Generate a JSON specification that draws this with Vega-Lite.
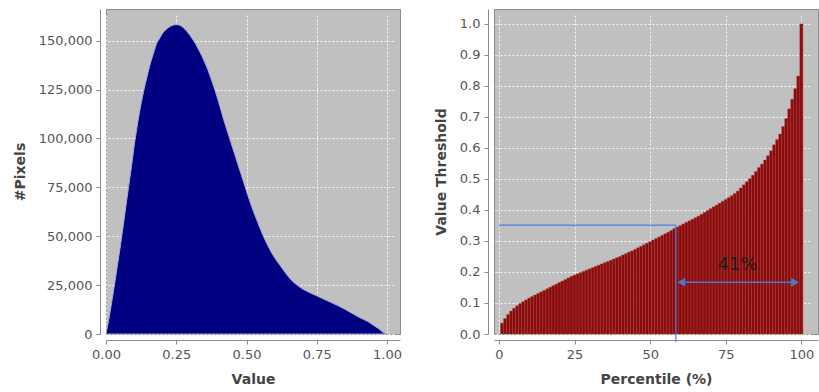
{
  "$schema": "https://vega.github.io/schema/vega-lite/v6.json",
  "autosize": {"type": "pad"},
  "padding": {"left": 12, "top": 8, "right": 0, "bottom": 0},
  "background": "white",
  "spacing": 30,
  "config": {
    "view": {"fill": "#c0c0c0", "stroke": "#8c8c8c", "strokeWidth": 1},
    "axis": {
      "labelFont": "DejaVu Sans", "labelFontSize": 13, "labelColor": "#555555",
      "titleFont": "DejaVu Sans", "titleFontSize": 14, "titleFontWeight": "bold", "titleColor": "#444444",
      "domainColor": "#8c8c8c", "tickColor": "#8c8c8c", "tickSize": 4, "offset": 6,
      "labelPadding": 4, "labelOverlap": false, "labelFlush": false,
      "gridColor": "#ffffff", "gridDash": [2, 2], "gridWidth": 1, "gridOpacity": 0.9
    }
  },
  "datasets": {
    "hist": [
      {"value": 0.00, "pixels": 0},
      {"value": 0.01, "pixels": 7500},
      {"value": 0.02, "pixels": 16000},
      {"value": 0.03, "pixels": 25000},
      {"value": 0.04, "pixels": 34500},
      {"value": 0.05, "pixels": 44000},
      {"value": 0.06, "pixels": 54000},
      {"value": 0.07, "pixels": 64500},
      {"value": 0.08, "pixels": 75000},
      {"value": 0.09, "pixels": 85000},
      {"value": 0.10, "pixels": 96000},
      {"value": 0.11, "pixels": 105500},
      {"value": 0.12, "pixels": 114000},
      {"value": 0.13, "pixels": 121500},
      {"value": 0.14, "pixels": 128000},
      {"value": 0.15, "pixels": 134000},
      {"value": 0.16, "pixels": 139500},
      {"value": 0.17, "pixels": 144000},
      {"value": 0.18, "pixels": 148500},
      {"value": 0.19, "pixels": 151000},
      {"value": 0.20, "pixels": 153500},
      {"value": 0.22, "pixels": 156500},
      {"value": 0.24, "pixels": 158000},
      {"value": 0.25, "pixels": 158200},
      {"value": 0.26, "pixels": 158000},
      {"value": 0.28, "pixels": 156000},
      {"value": 0.30, "pixels": 152500},
      {"value": 0.32, "pixels": 148000},
      {"value": 0.34, "pixels": 142500},
      {"value": 0.36, "pixels": 136000},
      {"value": 0.38, "pixels": 128000},
      {"value": 0.40, "pixels": 119000},
      {"value": 0.42, "pixels": 109000},
      {"value": 0.44, "pixels": 100000},
      {"value": 0.46, "pixels": 91000},
      {"value": 0.48, "pixels": 82000},
      {"value": 0.50, "pixels": 73000},
      {"value": 0.52, "pixels": 64500},
      {"value": 0.54, "pixels": 57000},
      {"value": 0.56, "pixels": 50000},
      {"value": 0.58, "pixels": 44000},
      {"value": 0.60, "pixels": 39000},
      {"value": 0.62, "pixels": 35000},
      {"value": 0.64, "pixels": 31000},
      {"value": 0.66, "pixels": 27500},
      {"value": 0.68, "pixels": 25000},
      {"value": 0.70, "pixels": 23000},
      {"value": 0.72, "pixels": 21500},
      {"value": 0.75, "pixels": 19500},
      {"value": 0.78, "pixels": 17500},
      {"value": 0.80, "pixels": 16200},
      {"value": 0.85, "pixels": 12700},
      {"value": 0.88, "pixels": 10200},
      {"value": 0.90, "pixels": 8600},
      {"value": 0.93, "pixels": 6500},
      {"value": 0.95, "pixels": 4600},
      {"value": 0.97, "pixels": 2700},
      {"value": 0.99, "pixels": 500},
      {"value": 1.00, "pixels": 0}
    ],
    "pct": [
      {"p": 1, "v": 0.035}, {"p": 2, "v": 0.05}, {"p": 3, "v": 0.063}, {"p": 4, "v": 0.074}, {"p": 5, "v": 0.083},
      {"p": 6, "v": 0.091}, {"p": 7, "v": 0.098}, {"p": 8, "v": 0.104}, {"p": 9, "v": 0.11}, {"p": 10, "v": 0.116},
      {"p": 11, "v": 0.121}, {"p": 12, "v": 0.126}, {"p": 13, "v": 0.131}, {"p": 14, "v": 0.136}, {"p": 15, "v": 0.141},
      {"p": 16, "v": 0.146}, {"p": 17, "v": 0.151}, {"p": 18, "v": 0.156}, {"p": 19, "v": 0.161}, {"p": 20, "v": 0.166},
      {"p": 21, "v": 0.171}, {"p": 22, "v": 0.176}, {"p": 23, "v": 0.181}, {"p": 24, "v": 0.186}, {"p": 25, "v": 0.19},
      {"p": 26, "v": 0.194}, {"p": 27, "v": 0.198}, {"p": 28, "v": 0.202}, {"p": 29, "v": 0.206}, {"p": 30, "v": 0.21},
      {"p": 31, "v": 0.214}, {"p": 32, "v": 0.218}, {"p": 33, "v": 0.222}, {"p": 34, "v": 0.226}, {"p": 35, "v": 0.23},
      {"p": 36, "v": 0.234}, {"p": 37, "v": 0.238}, {"p": 38, "v": 0.242}, {"p": 39, "v": 0.246}, {"p": 40, "v": 0.25},
      {"p": 41, "v": 0.255}, {"p": 42, "v": 0.259}, {"p": 43, "v": 0.264}, {"p": 44, "v": 0.268}, {"p": 45, "v": 0.273},
      {"p": 46, "v": 0.278}, {"p": 47, "v": 0.283}, {"p": 48, "v": 0.288}, {"p": 49, "v": 0.293}, {"p": 50, "v": 0.298},
      {"p": 51, "v": 0.303}, {"p": 52, "v": 0.308}, {"p": 53, "v": 0.313}, {"p": 54, "v": 0.318}, {"p": 55, "v": 0.323},
      {"p": 56, "v": 0.328}, {"p": 57, "v": 0.334}, {"p": 58, "v": 0.34}, {"p": 59, "v": 0.345}, {"p": 60, "v": 0.35},
      {"p": 61, "v": 0.355}, {"p": 62, "v": 0.36}, {"p": 63, "v": 0.365}, {"p": 64, "v": 0.37}, {"p": 65, "v": 0.375},
      {"p": 66, "v": 0.38}, {"p": 67, "v": 0.386}, {"p": 68, "v": 0.392}, {"p": 69, "v": 0.398}, {"p": 70, "v": 0.404},
      {"p": 71, "v": 0.41}, {"p": 72, "v": 0.416}, {"p": 73, "v": 0.422}, {"p": 74, "v": 0.428}, {"p": 75, "v": 0.434},
      {"p": 76, "v": 0.44}, {"p": 77, "v": 0.446}, {"p": 78, "v": 0.453}, {"p": 79, "v": 0.461}, {"p": 80, "v": 0.471},
      {"p": 81, "v": 0.481}, {"p": 82, "v": 0.491}, {"p": 83, "v": 0.501}, {"p": 84, "v": 0.512}, {"p": 85, "v": 0.524},
      {"p": 86, "v": 0.537}, {"p": 87, "v": 0.548}, {"p": 88, "v": 0.561}, {"p": 89, "v": 0.575}, {"p": 90, "v": 0.591},
      {"p": 91, "v": 0.61}, {"p": 92, "v": 0.627}, {"p": 93, "v": 0.645}, {"p": 94, "v": 0.669}, {"p": 95, "v": 0.695},
      {"p": 96, "v": 0.726}, {"p": 97, "v": 0.757}, {"p": 98, "v": 0.791}, {"p": 99, "v": 0.832}, {"p": 100, "v": 1.0}
    ]
  },
  "hconcat": [
    {
      "width": 294,
      "height": 325,
      "data": {"name": "hist"},
      "mark": {"type": "area", "color": "#000080", "stroke": "#a8a8d8", "strokeWidth": 1, "interpolate": "monotone"},
      "encoding": {
        "x": {
          "field": "value", "type": "quantitative",
          "scale": {"domain": [0, 1.046], "nice": false, "zero": false},
          "axis": {"title": "Value", "values": [0, 0.25, 0.5, 0.75, 1.0], "format": ".2f", "titlePadding": 11}
        },
        "y": {
          "field": "pixels", "type": "quantitative",
          "scale": {"domain": [0, 166200], "nice": false},
          "axis": {"title": "#Pixels", "values": [0, 25000, 50000, 75000, 100000, 125000, 150000], "format": ",d", "titlePadding": 11}
        }
      }
    },
    {
      "width": 324,
      "height": 325,
      "encoding": {
        "x": {
          "field": "p", "type": "quantitative",
          "scale": {"domain": [0, 103.85], "nice": false, "zero": false},
          "axis": {"title": "Percentile (%)", "values": [0, 25, 50, 75, 100], "format": "d", "titlePadding": 11}
        },
        "y": {
          "field": "v", "type": "quantitative",
          "scale": {"domain": [0, 1.048], "nice": false},
          "axis": {"title": "Value Threshold", "values": [0, 0.1, 0.2, 0.3, 0.4, 0.5, 0.6, 0.7, 0.8, 0.9, 1.0], "format": ".1f", "titlePadding": 11}
        }
      },
      "layer": [
        {
          "data": {"name": "pct"},
          "mark": {"type": "bar", "width": 3.12, "color": "#8a0b0b", "stroke": "#b44a4a", "strokeWidth": 0.4}
        },
        {
          "data": {"values": [{"p": 0, "p2": 58.5, "v": 0.351}]},
          "mark": {"type": "rule", "color": "#4a80e0", "strokeWidth": 1.3},
          "encoding": {"x2": {"field": "p2"}}
        },
        {
          "data": {"values": [{"p": 58.5, "v": 0.351, "v2": -0.026}]},
          "mark": {"type": "rule", "color": "#4a80e0", "strokeWidth": 1.2},
          "encoding": {"y2": {"field": "v2"}}
        },
        {
          "data": {"values": [{"p": 59.5, "p2": 98.8, "v": 0.167}]},
          "mark": {"type": "rule", "color": "#4a78c8", "strokeWidth": 1.5},
          "encoding": {"x2": {"field": "p2"}}
        },
        {
          "data": {"values": [{"p": 60.3, "v": 0.167}]},
          "mark": {"type": "point", "shape": "triangle-left", "filled": true, "color": "#4a78c8", "size": 80, "opacity": 1}
        },
        {
          "data": {"values": [{"p": 97.9, "v": 0.167}]},
          "mark": {"type": "point", "shape": "triangle-right", "filled": true, "color": "#4a78c8", "size": 80, "opacity": 1}
        },
        {
          "data": {"values": [{"p": 78.9, "v": 0.221, "label": "41%"}]},
          "mark": {"type": "text", "font": "DejaVu Sans", "fontSize": 18, "color": "#1c1c1c", "align": "center", "baseline": "middle"},
          "encoding": {"text": {"field": "label"}}
        }
      ]
    }
  ]
}
